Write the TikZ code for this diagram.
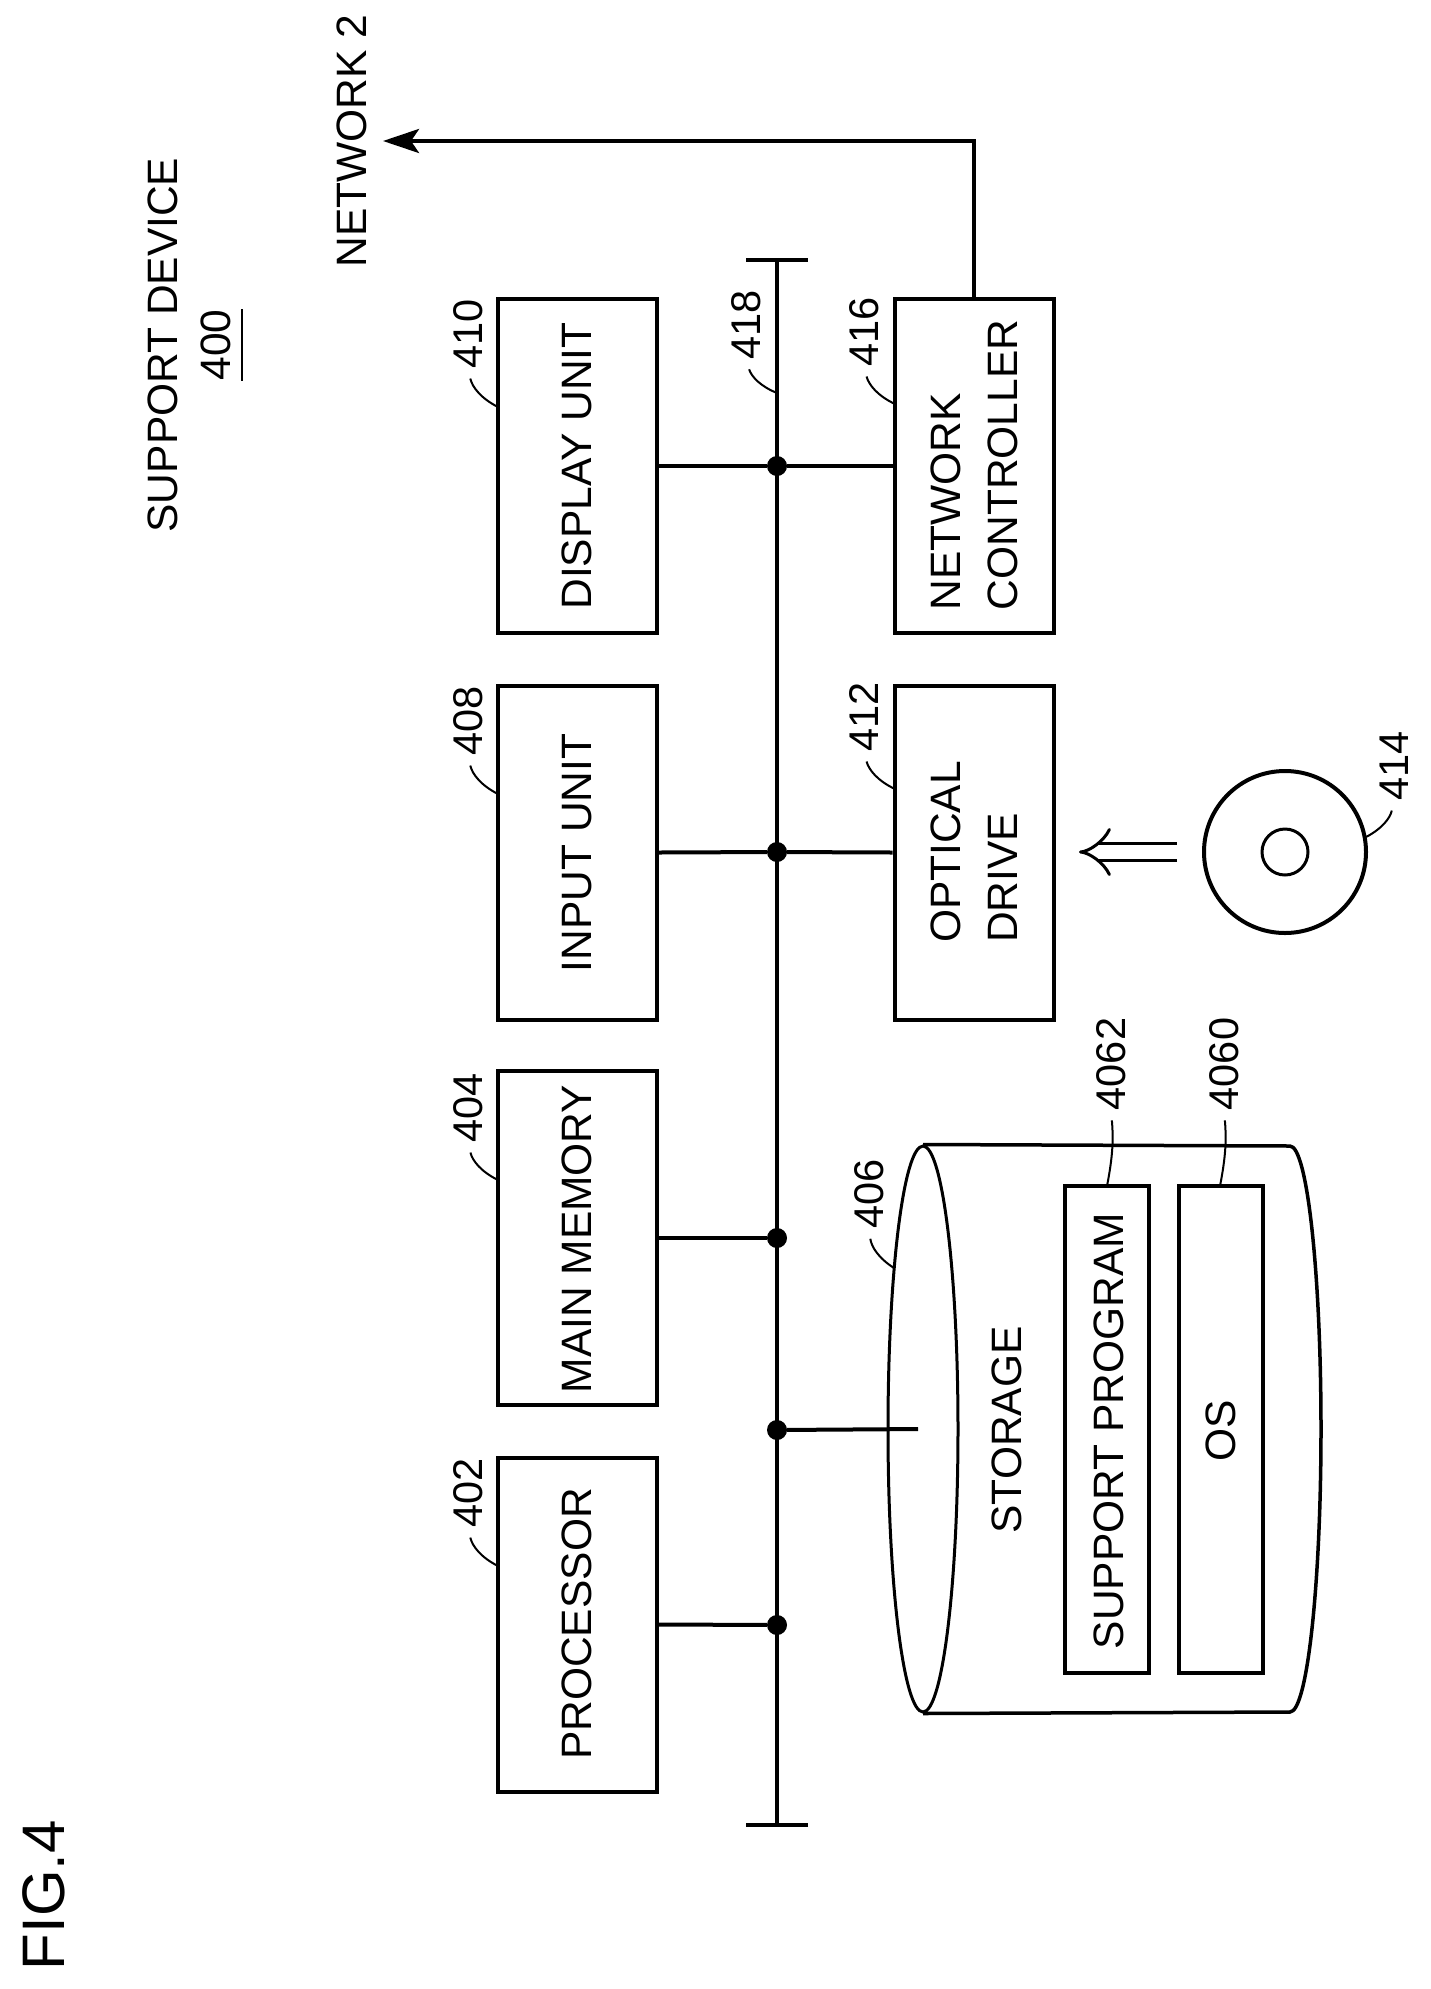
\documentclass[tikz,border=0pt]{standalone}
\usepackage{fontspec}
\setmainfont{Liberation Sans}
\usetikzlibrary{arrows.meta,shapes.geometric}

\begin{document}
\begin{tikzpicture}[x=1pt,y=-1pt]
%define
\tikzstyle{box} = [rectangle, rotate=90, minimum width=334pt, minimum height=159pt, inner sep=0pt, draw=black, line width=4pt]
\tikzstyle{boxs} = [rectangle, rotate=90, minimum width=487pt, minimum height=84pt, inner sep=0pt, draw=black, line width=4pt]
\tikzstyle{txt} = [rotate=90, inner sep=0pt, align=left, font=\fontsize{42.5}{57}\selectfont]
\tikzstyle{num} = [rotate=90, inner sep=0pt, font=\fontsize{41.5}{46}\selectfont]
\tikzstyle{dot} = [circle, fill=black, minimum size=20pt, inner sep=0pt]
\tikzstyle{line} = [line width=4pt]
\tikzstyle{leader} = [line width=2pt, shorten <=10pt]
\tikzstyle{arrow} = [->, >={Stealth[length=36pt,width=24pt,inset=8pt]}, line width=4pt]

\useasboundingbox (0,0) rectangle (1430,1989);

%titles
\node[txt](device) at (163,345){SUPPORT DEVICE};
\node[num, font=\fontsize{42.5}{46}\selectfont](devnum) at (216,345){400};
\node[txt](net2) at (352,141){NETWORK 2};
\node[rotate=90, inner sep=0pt, font=\fontsize{60}{66}\selectfont](fig) at (44,1895){FIG.4};
\draw[line width=2.5pt]([xshift=11pt]devnum.south west)--([xshift=11pt]devnum.south east);

%boxes
\node[box](display) at (577.5,466){};
\node[box](netctrl) at (974,466){};
\node[box](input) at (577.5,852.5){};
\node[box](optical) at (974,852.5){};
\node[box](memory) at (577.5,1238){};
\node[box](processor) at (577.5,1624.5){};
\node[txt] at (577,466){DISPLAY UNIT};
\node[txt] at (974.5,465){NETWORK\\CONTROLLER};
\node[txt] at (577,853){INPUT UNIT};
\node[txt] at (974.5,852){OPTICAL\\DRIVE};
\node[txt] at (577,1239){MAIN MEMORY};
\node[txt] at (577,1624){PROCESSOR};

%storage
\node[ellipse, minimum width=70pt, minimum height=566pt, inner sep=0pt, draw=black, line width=3pt](storage) at (923,1429){};
\draw[line width=3.5pt](storage.north)--(1290,1146) arc[start angle=-90, end angle=90, x radius=31, y radius=283]--(storage.south);
\node[txt] at (1007,1430){STORAGE};
\node[boxs](support) at (1107,1429.5){};
\node[boxs](os) at (1221,1429.5){};
\node[txt] at (1109,1431){SUPPORT PROGRAM};
\node[txt] at (1221,1431){OS};

%disc
\node[circle, minimum size=162pt, inner sep=0pt, draw=black, line width=4pt](disc) at (1285,852){};
\node[circle, minimum size=46pt, inner sep=0pt, draw=black, line width=3pt](hole) at (1285,852){};
\coordinate(discin) at (1177,852);
\coordinate(discout) at (1079,852);
\draw[double, double distance=14pt, line width=3pt, -{Implies[length=16pt]}](discin)--(discout);

%bus
\coordinate(bustop) at (777,258);
\coordinate(busend) at (777,1827);
\node[dot](d1) at (777,466){};
\node[dot](d2) at (777,852){};
\node[dot](d3) at (777,1238){};
\node[dot](d4) at (777,1430){};
\node[dot](d5) at (777,1625){};
\draw[line, {Bar[width=62pt,length=0pt]}-{Bar[width=62pt,length=0pt]}](bustop)--(busend);

%line
\draw[line](display.south)--(d1)--(netctrl.north);
\draw[line](input.south)--(d2)--(optical.north);
\draw[line](memory.south)--(d3);
\draw[line, shorten >=5pt](d4)--(storage.center);
\draw[line](processor.south)--(d5);
\coordinate(netend) at (383,141);
\draw[arrow](netctrl.east)|-(netend);

%numbers
\node[num](n410) at (468,334){410};
\node[num](n418) at (746,325){418};
\node[num](n416) at (864,332){416};
\node[num](n408) at (468,721){408};
\node[num](n412) at (864,717){412};
\node[num](n414) at (1394,766){414};
\node[num](n404) at (468,1108){404};
\node[num](n406) at (869,1194){406};
\node[num](n4062) at (1111,1064){4062};
\node[num](n4060) at (1224,1064){4060};
\node[num](n402) at (468,1493){402};

%leaders
\coordinate(c410) at (498,407);
\coordinate(c418) at (777,393);
\coordinate(c416) at (895,404);
\coordinate(c408) at (498,794);
\coordinate(c412) at (895,789);
\coordinate(c414) at (1366,837);
\coordinate(c404) at (498,1180);
\coordinate(c406) at (894,1268);
\coordinate(c4062) at (1107,1186);
\coordinate(c4060) at (1220,1186);
\coordinate(c402) at (498,1566);
\draw[leader](n410.west) to[bend right=25] (c410);
\draw[leader](n418.west) to[bend right=25] (c418);
\draw[leader](n416.west) to[bend right=25] (c416);
\draw[leader](n408.west) to[bend right=25] (c408);
\draw[leader](n412.west) to[bend right=25] (c412);
\draw[leader](n414.west) to[bend left=25] (c414);
\draw[leader](n404.west) to[bend right=25] (c404);
\draw[leader](n406.west) to[bend right=25] (c406);
\draw[leader](n4062.west) to[bend left=8] (c4062);
\draw[leader](n4060.west) to[bend left=8] (c4060);
\draw[leader](n402.west) to[bend right=25] (c402);

\end{tikzpicture}
\end{document}
